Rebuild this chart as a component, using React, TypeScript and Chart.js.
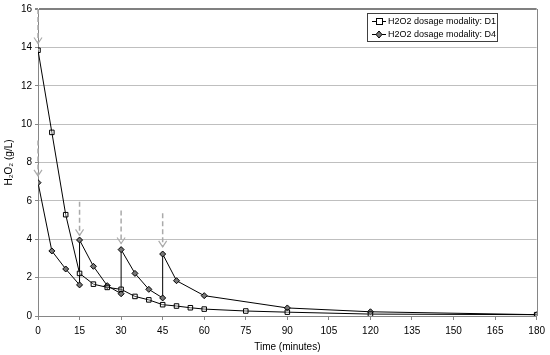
import React, { useEffect, useRef } from "react";
import { Chart, registerables } from "chart.js";

Chart.register(...registerables);

const d1Times = [0, 5, 10, 15, 20, 25, 30, 35, 40, 45, 50, 55, 60, 75, 90, 120, 180];
const d1Values = [13.85, 9.57, 5.28, 2.22, 1.66, 1.49, 1.39, 1.02, 0.84, 0.59, 0.52, 0.43, 0.36, 0.26, 0.2, 0.1, 0.07];

const d4Times = [0, 5, 10, 15, 15, 20, 25, 30, 30, 35, 40, 45, 45, 50, 60, 90, 120, 180];
const d4Values = [6.95, 3.39, 2.45, 1.62, 3.96, 2.59, 1.58, 1.16, 3.46, 2.22, 1.39, 0.94, 3.23, 1.84, 1.06, 0.42, 0.22, 0.07];

const arrowTimes = [0, 0, 15, 30, 45];
const arrowFrom = [16, 9.15, 5.95, 5.5, 5.35];
const arrowTo = [14.2, 7.3, 4.2, 3.78, 3.6];

const xTicks = [0, 15, 30, 45, 60, 75, 90, 105, 120, 135, 150, 165, 180];
const yTicks = [0, 2, 4, 6, 8, 10, 12, 14, 16];

const seriesLabels = ["H2O2 dosage modality: D1", "H2O2 dosage modality: D4"];

const FONT = "'Liberation Sans', Arial, sans-serif";

export default function App() {
  const ref = useRef<HTMLCanvasElement | null>(null);
  useEffect(() => {
    document.body.style.margin = "0";
    const canvas = ref.current!;
    const extrasPlugin = {
      id: "extras",
      afterDatasetsDraw(chart: any) {
        const { ctx, chartArea, scales } = chart;
        const xs = scales.x;
        const ys = scales.y;
        ctx.save();
        // right border
        ctx.strokeStyle = "#868686";
        ctx.lineWidth = 1;
        ctx.beginPath();
        ctx.moveTo(Math.round(chartArea.right) + 0.5, chartArea.top);
        ctx.lineTo(Math.round(chartArea.right) + 0.5, chartArea.bottom);
        ctx.stroke();
        // arrows
        ctx.strokeStyle = "#aaaaaa";
        ctx.lineWidth = 1.5;
        for (let i = 0; i < arrowTimes.length; i++) {
          const x = xs.getPixelForValue(arrowTimes[i]);
          const y0 = ys.getPixelForValue(arrowFrom[i]);
          const y1 = ys.getPixelForValue(arrowTo[i]);
          ctx.setLineDash([5, 3]);
          ctx.beginPath();
          ctx.moveTo(x, y0);
          ctx.lineTo(x, y1);
          ctx.stroke();
          ctx.setLineDash([]);
          ctx.lineWidth = 1.2;
          ctx.beginPath();
          ctx.moveTo(x - 4, y1 - 6);
          ctx.lineTo(x, y1);
          ctx.lineTo(x + 4, y1 - 6);
          ctx.stroke();
          ctx.lineWidth = 1.5;
        }
        // legend
        const lx = 367, ly = 13, lw = 130, lh = 28;
        ctx.fillStyle = "#ffffff";
        ctx.fillRect(lx, ly, lw, lh);
        ctx.strokeStyle = "#404040";
        ctx.lineWidth = 1;
        ctx.strokeRect(lx + 0.5, ly + 0.5, lw, lh);
        ctx.font = `9px ${FONT}`;
        ctx.textBaseline = "middle";
        const rows = [ly + 8, ly + 21];
        rows.forEach((ry, i) => {
          ctx.strokeStyle = "#000";
          ctx.lineWidth = 1;
          ctx.beginPath();
          ctx.moveTo(lx + 5, ry + 0.5);
          ctx.lineTo(lx + 19, ry + 0.5);
          ctx.stroke();
          if (i === 0) {
            ctx.fillStyle = "#fff";
            ctx.fillRect(lx + 9, ry - 3, 6, 6);
            ctx.strokeRect(lx + 9.5, ry - 2.5, 6, 6);
          } else {
            ctx.fillStyle = "#777";
            ctx.beginPath();
            ctx.moveTo(lx + 12, ry - 3);
            ctx.lineTo(lx + 15, ry + 0.5);
            ctx.lineTo(lx + 12, ry + 4);
            ctx.lineTo(lx + 9, ry + 0.5);
            ctx.closePath();
            ctx.fill();
            ctx.stroke();
          }
          ctx.fillStyle = "#000";
          ctx.textAlign = "left";
          ctx.fillText(seriesLabels[i], lx + 21, ry + 1);
        });
        ctx.restore();
      },
    };
    const chart = new Chart(canvas, {
      type: "line",
      data: {
        datasets: [
          {
            label: seriesLabels[0],
            data: d1Times.map((t, i) => ({ x: t, y: d1Values[i] })),
            borderColor: "#000",
            borderWidth: 1,
            pointStyle: "rect",
            pointRadius: 3.2,
            pointBackgroundColor: "rgba(255,255,255,0.3)",
            pointBorderColor: "#000",
            pointBorderWidth: 1,
            tension: 0,
          },
          {
            label: seriesLabels[1],
            data: d4Times.map((t, i) => ({ x: t, y: d4Values[i] })),
            borderColor: "#000",
            borderWidth: 1,
            pointStyle: "rectRot",
            pointRadius: 3,
            pointBackgroundColor: "#777",
            pointBorderColor: "#000",
            pointBorderWidth: 1,
            tension: 0,
          },
        ],
      },
      options: {
        animation: false,
        responsive: false,
        layout: { padding: { top: 9, right: 13, left: 0, bottom: 0 } },
        plugins: {
          legend: { display: false },
          tooltip: { enabled: false },
        },
        scales: {
          x: {
            type: "linear",
            min: 0,
            max: 180,
            afterBuildTicks: (s: any) => {
              s.ticks = xTicks.map((v) => ({ value: v }));
            },
            afterFit: (s: any) => {
              s.height = 39;
            },
            grid: {
              drawOnChartArea: false,
              drawTicks: true,
              tickLength: 4,
              color: "#868686",
            },
            border: { color: "#868686", width: 1 },
            ticks: {
              color: "#000",
              font: { family: FONT, size: 10 },
              padding: 5,
              maxRotation: 0,
              autoSkip: false,
            },
            title: {
              display: true,
              text: "Time (minutes)",
              color: "#000",
              font: { family: FONT, size: 10 },
              padding: { top: 1, bottom: 2 },
            },
          },
          y: {
            type: "linear",
            min: 0,
            max: 16,
            afterBuildTicks: (s: any) => {
              s.ticks = yTicks.map((v) => ({ value: v }));
            },
            afterFit: (s: any) => {
              s.width = 38;
            },
            grid: {
              color: (c: any) => (c.tick && c.tick.value === 16 ? "#808080" : "#bfbfbf"),
              lineWidth: (c: any) => (c.tick && c.tick.value === 16 ? 2 : 1),
              tickLength: 3,
              tickColor: "#868686",
            },
            border: { color: "#868686", width: 1 },
            ticks: {
              color: "#000",
              font: { family: FONT, size: 10 },
              padding: 3,
              autoSkip: false,
            },
            title: {
              display: true,
              text: "H₂O₂ (g/L)",
              color: "#000",
              font: { family: FONT, size: 10 },
              padding: { top: 3, bottom: 0 },
            },
          },
        },
      },
      plugins: [extrasPlugin],
    } as any);
    return () => chart.destroy();
  }, []);
  return <canvas ref={ref} width={550} height={355} style={{ display: "block" }} />;
}
